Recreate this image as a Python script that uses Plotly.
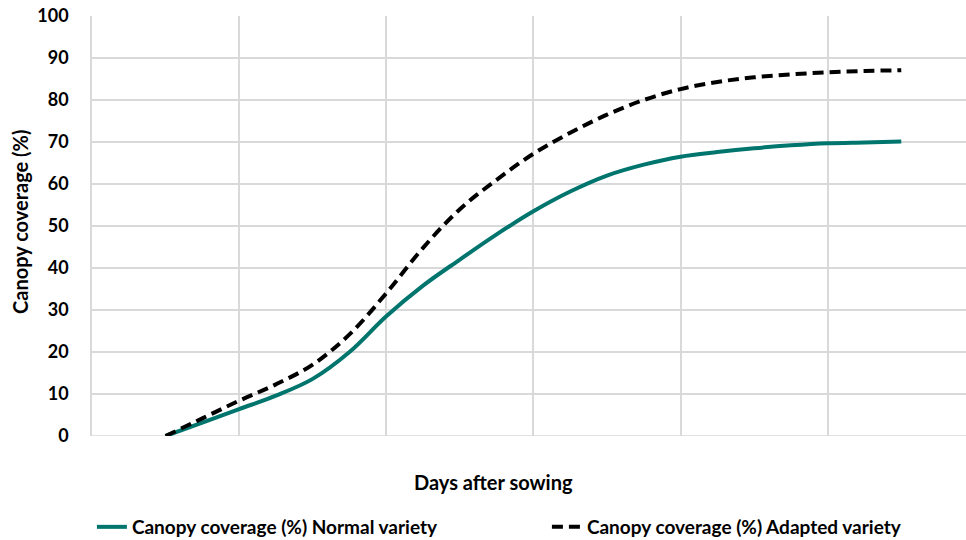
import plotly.graph_objects as go

# Quarter-category positions along the x axis (the source shows no x tick labels)
x_pos = [0, 0.25, 0.5, 0.75, 1.0, 1.25, 1.5, 1.75, 2.0, 2.25, 2.5,
         2.75, 3.0, 3.25, 3.5, 3.75, 4.0, 4.25, 4.5, 4.75, 5.0]
normal_variety = [0, 3.2, 6.4, 9.6, 13.6, 20.0, 28.5, 35.8, 42.0, 48.0, 53.5,
                  58.2, 62.0, 64.6, 66.5, 67.6, 68.5, 69.2, 69.7, 69.9, 70.1]
adapted_variety = [0, 4.2, 8.4, 12.3, 17.0, 24.2, 34.0, 44.8, 54.0, 61.0, 67.2,
                   72.2, 76.5, 80.0, 82.6, 84.3, 85.4, 86.1, 86.6, 86.9, 87.1]
grid_x = [0.5, 1.5, 2.5, 3.5, 4.5, 5.5]
y_ticks = [0, 10, 20, 30, 40, 50, 60, 70, 80, 90, 100]

FONT = "Lato"
teal = "#00756E"
W, H = 966, 540
L, T, B = 92, 16, 436
PW, PH = W - L, B - T


def px(xs):
    return (xs - L) / PW


def py(ys):
    return (B - ys) / PH


fig = go.Figure()
fig.add_trace(go.Scatter(
    x=x_pos, y=normal_variety, mode="lines", name="Canopy coverage (%) Normal variety",
    line=dict(color=teal, width=4, shape="spline", smoothing=1.0),
))
fig.add_trace(go.Scatter(
    x=x_pos, y=adapted_variety, mode="lines", name="Canopy coverage (%) Adapted variety",
    line=dict(color="#000000", width=4, dash="11px,6px", shape="spline", smoothing=1.0),
))

fig.update_layout(
    width=W, height=H,
    margin=dict(l=L, r=0, t=T, b=H - B, autoexpand=False),
    paper_bgcolor="white", plot_bgcolor="white",
    font=dict(family=FONT, color="#000000"),
    showlegend=True,
    legend=dict(
        orientation="h", x=-0.0001, xanchor="left", y=py(527), yanchor="middle",
        font=dict(family=FONT, size=19, color="#000000", weight="bold"),
        entrywidth=410, traceorder="normal",
        bgcolor="rgba(0,0,0,0)",
    ),
    xaxis=dict(
        range=[-0.5, 5.44], tickvals=grid_x, showticklabels=False,
        showgrid=True, gridcolor="#D9D9D9", gridwidth=1.5,
        zeroline=False, showline=False, ticks="",
    ),
    yaxis=dict(
        range=[0, 100], tickvals=y_ticks,
        tickfont=dict(family=FONT, size=18, color="#000000", weight="bold"),
        showgrid=True, gridcolor="#D9D9D9", gridwidth=1.5,
        zeroline=False, showline=True, linecolor="#D9D9D9", linewidth=1.5,
        ticks="", ticklabelstandoff=18, ticklabeloverflow="allow",
    ),
    annotations=[
        dict(text="<b>Canopy coverage (%)</b>", xref="paper", yref="paper",
             x=px(20), y=py(222), xanchor="center", yanchor="middle",
             textangle=-90, showarrow=False, font=dict(family=FONT, size=20)),
        dict(text="<b>Days after sowing</b>", xref="paper", yref="paper",
             x=px(493), y=py(482), xanchor="center", yanchor="middle",
             showarrow=False, font=dict(family=FONT, size=20)),
    ],
)
fig.add_hline(y=0, line=dict(color="#D9D9D9", width=1.5), layer="below")

# Remove the default 8px page margin so the figure sits at the window's corner
fig.write_html("out.html", config={"displayModeBar": False},
               post_script="document.body.style.margin='0';")
